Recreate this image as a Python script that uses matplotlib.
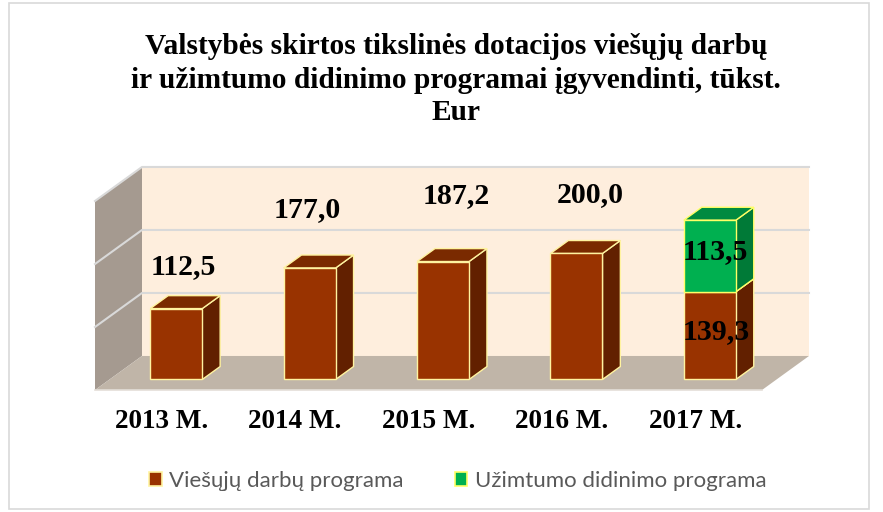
"""3D-style stacked bar chart: state targeted grants for public works and
employment programmes (thousand EUR), 2013-2017. Writes out.png."""
import matplotlib.pyplot as plt
from matplotlib.patches import Polygon, Patch, Rectangle

YEARS = ["2013 M.", "2014 M.", "2015 M.", "2016 M.", "2017 M."]
PUBLIC_WORKS = [112.5, 177.0, 187.2, 200.0, 139.3]
EMPLOYMENT = [0.0, 0.0, 0.0, 0.0, 113.5]
SERIES_NAMES = ["Viešųjų darbų programa", "Užimtumo didinimo programa"]
TITLE_LINES = ["Valstybės skirtos tikslinės dotacijos viešųjų darbų",
               "ir užimtumo didinimo programai įgyvendinti, tūkst.",
               "Eur"]
VMAX = 300
GRID = [100, 200, 300]

# pseudo-3d geometry (depth offsets in data units)
DX, DY = 0.3523, 54.0
Z0, Z1 = 0.31, 0.69
HW = 0.195

BROWN = ("#993300", "#7a2a00", "#622000", "#fff3a0")
GREEN = ("#00b050", "#008a40", "#007a37", "#ffff66")
WALL, SIDE, FLOOR, GRIDC = "#feeedd", "#a59a90", "#c0b5a8", "#d9d9d9"

W, H = 883, 512
fig = plt.figure(figsize=(W / 100, H / 100), dpi=100)
ax = fig.add_axes([95 / W, (H - 390) / H, 667 / W, 189 / H])
ax.set_xlim(0, len(YEARS))
ax.set_ylim(0, VMAX)
ax.axis("off")


def proj(x, v, z):
    return (x + DX * z, v + DY * z)


def poly(pts, fc, ec="none", lw=0.0, z=1):
    ax.add_patch(Polygon([proj(*p) for p in pts], closed=True, fc=fc, ec=ec,
                         lw=lw, clip_on=False, zorder=z))


n = len(YEARS)
# walls and floor
poly([(0, 0, 1), (n, 0, 1), (n, VMAX, 1), (0, VMAX, 1)], WALL)
poly([(0, 0, 0), (0, 0, 1), (0, VMAX, 1), (0, VMAX, 0)], SIDE)
poly([(0, 0, 0), (n, 0, 0), (n, 0, 1), (0, 0, 1)], FLOOR)
for g in GRID:
    a, b, c = proj(0, g, 0), proj(0, g, 1), proj(n, g, 1)
    ax.plot([a[0], b[0], c[0]], [a[1], b[1], c[1]], color=GRIDC, lw=1.5,
            clip_on=False, zorder=2)
a, b = proj(0, 0, 0), proj(n, 0, 0)
ax.plot([a[0], b[0]], [a[1], b[1]], color="#e4ded8", lw=1.2, clip_on=False, zorder=2)


def box(xc, v0, v1, cols, z):
    front, top, side, edge = cols
    xl, xr = xc - HW, xc + HW
    poly([(xr, v0, Z0), (xr, v0, Z1), (xr, v1, Z1), (xr, v1, Z0)], side, edge, 1.0, z)
    poly([(xl, v1, Z0), (xr, v1, Z0), (xr, v1, Z1), (xl, v1, Z1)], top, edge, 1.0, z)
    poly([(xl, v0, Z0), (xr, v0, Z0), (xr, v1, Z0), (xl, v1, Z0)], front, edge, 1.0, z)


tf = dict(family="Liberation Serif", weight="bold", color="black")
# hand nudges (pixels) for value labels, as placed in the original
nudge = [(-2, 36), (-11, 52), (4, 60), (5, 52), (0, 0)]
for i in range(n):
    xc = i + 0.5
    pw, em = PUBLIC_WORKS[i], EMPLOYMENT[i]
    box(xc, 0, pw, BROWN, 5)
    if em > 0:
        box(xc, pw, pw + em, GREEN, 6)
        ax.annotate(f"{pw:.1f}".replace(".", ","), proj(xc, pw / 2, Z0),
                    xytext=(6, 4), textcoords="offset pixels", ha="center",
                    va="center", fontsize=21.5, zorder=10, **tf)
        ax.annotate(f"{em:.1f}".replace(".", ","), proj(xc, pw + em / 2, Z0),
                    xytext=(5, 4), textcoords="offset pixels", ha="center",
                    va="center", fontsize=21.5, zorder=10, **tf)
    else:
        ax.annotate(f"{pw:.1f}".replace(".", ","), proj(xc, pw, 0.5),
                    xytext=nudge[i], textcoords="offset pixels", ha="center",
                    va="center", fontsize=21.5, zorder=10, **tf)
    ax.annotate(YEARS[i], proj(xc, 0, 0), xytext=(0, -31),
                textcoords="offset pixels", ha="center", va="center",
                fontsize=19.5, zorder=10, **tf)

for k, (line, y) in enumerate(zip(TITLE_LINES, [47, 80, 113])):
    fig.text(456 / W, 1 - y / H, line, ha="center", va="center", fontsize=21.2, **tf)

handles = [Patch(fc=BROWN[0], ec=BROWN[3], lw=1.2),
           Patch(fc=GREEN[0], ec=GREEN[3], lw=1.2)]
fig.legend(handles, SERIES_NAMES, loc="center", bbox_to_anchor=(458 / W, 1 - 481 / H),
           ncol=2, frameon=False, handlelength=0.55, handleheight=0.55,
           handletextpad=0.35, columnspacing=2.3,
           prop=dict(family="Lato", size=16), labelcolor="#595959")

fig.patches.append(Rectangle((9 / W, 3 / H), 860 / W, 506 / H, transform=fig.transFigure,
                             fill=False, ec="#d9d9d9", lw=1.2))
fig.savefig("out.png", dpi=100)
